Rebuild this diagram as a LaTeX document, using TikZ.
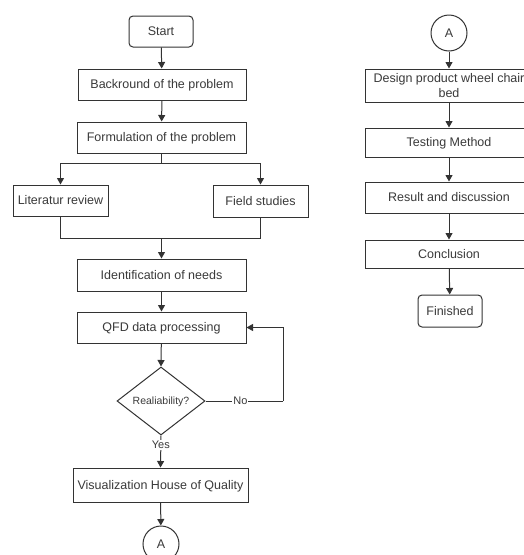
\documentclass[tikz,border=0pt]{standalone}
\usepackage{fontspec}
\setmainfont{Liberation Sans}
\usetikzlibrary{arrows.meta,shapes.geometric}
\definecolor{ln}{HTML}{333333}
\definecolor{tx}{HTML}{3A3A3A}
\tikzset{
  every node/.style={font=\fontsize{12.5}{15}\selectfont, text=tx},
  procbox/.style={draw=ln, line width=1pt, fill=white, rectangle, inner sep=0pt},
  oneline/.style={text height=9pt, text depth=1pt},
  termbox/.style={procbox, oneline, rounded corners=4pt},
  conn/.style={draw=ln, line width=1pt, circle, minimum size=36pt, inner sep=0pt, oneline},
  decide/.style={draw=ln, line width=1pt, diamond, aspect=1.3, minimum width=88pt, minimum height=68pt, inner sep=0pt, font=\fontsize{10.5}{12}\selectfont, text height=7.5pt, text depth=1pt},
  lbl/.style={fill=white, inner sep=1pt, font=\fontsize{11}{12}\selectfont},
  flow/.style={draw=ln, line width=1pt, -{Triangle[length=6.5pt,width=7pt]}},
  seg/.style={draw=ln, line width=1pt}
}
\begin{document}
\begin{tikzpicture}[x=1pt,y=-1pt]
\path[use as bounding box] (0,0) rectangle (524,555);
\clip (0,0) rectangle (524,555);
\fill[white] (0,0) rectangle (524,555);
% left column
\node[termbox, minimum width=64pt, minimum height=31pt] (start) at (161,31.5) {Start};
\node[procbox, oneline, minimum width=168pt, minimum height=31pt] (back) at (162,84.5) {Backround of the problem};
\node[procbox, oneline, minimum width=169pt, minimum height=31pt] (form) at (161.5,137.5) {Formulation of the problem};
\node[procbox, oneline, minimum width=95pt, minimum height=31pt] (lit) at (60.5,200.5) {Literatur review};
\node[procbox, oneline, minimum width=95pt, minimum height=32pt] (field) at (260.5,201) {Field studies};
\node[procbox, oneline, minimum width=169pt, minimum height=32pt] (ident) at (161.5,275) {Identification of needs};
\node[procbox, oneline, minimum width=169pt, minimum height=31pt] (qfd) at (161.5,327.5) {QFD data processing};
\node[decide] (dia) at (161,401) {Realiability?};
\node[procbox, oneline, minimum width=175pt, minimum height=34pt] (vis) at (160.5,485) {Visualization House of Quality};
\node[conn] (a1) at (161,544) {A};
\coordinate (split) at (161.5,163);
\coordinate (merge) at (161.5,238);
\coordinate (fb) at (283,401);
% right column
\node[conn] (a2) at (449,33) {A};
\node[procbox, minimum width=168pt, minimum height=33pt, align=center] (design) at (449,85.5) {Design product wheel chair\\bed};
\node[procbox, oneline, minimum width=168pt, minimum height=29pt] (test) at (449,142.5) {Testing Method};
\node[procbox, oneline, minimum width=168pt, minimum height=31pt] (result) at (449,197.5) {Result and discussion};
\node[procbox, oneline, minimum width=168pt, minimum height=28pt] (concl) at (449,254) {Conclusion};
\node[termbox, minimum width=64pt, minimum height=32pt] (fin) at (450,311) {Finished};
% connectors left
\path[flow] (start) -- (back);
\path[flow] (back) -- (form);
\path[seg] (form.south) -- (split);
\path[flow] (split) -| (lit.north);
\path[flow] (split) -| (field.north);
\path[seg] (lit.south) |- (merge);
\path[seg] (field.south) |- (merge);
\path[flow] (merge) -- (ident.north);
\path[flow] (ident) -- (qfd);
\path[flow] (qfd) -- (dia.north);
\path[seg] (dia.east) -- node[lbl, pos=0.45] {No} (fb);
\path[flow] (fb) |- (qfd.east);
\path[flow] (dia.south) -- node[lbl, pos=0.3] {Yes} (vis.north);
\path[flow] (vis) -- (a1);
% connectors right
\path[flow] (a2) -- (design);
\path[flow] (design) -- (test);
\path[flow] (test) -- (result);
\path[flow] (result) -- (concl);
\path[flow] (concl) -- (fin);
\end{tikzpicture}
\end{document}
